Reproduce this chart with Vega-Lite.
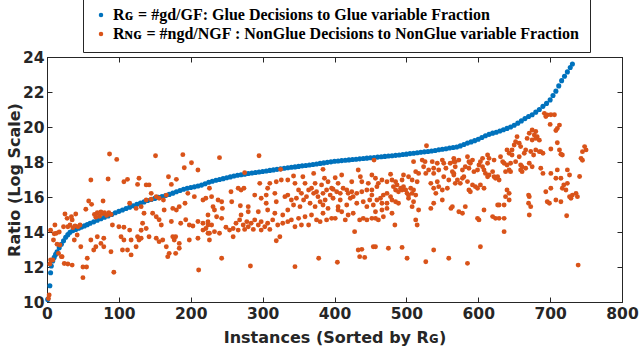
{
"$schema":"https://vega.github.io/schema/vega-lite/v6.json",
"width":575,"height":245,
"autosize":{"type":"none"},
"padding":{"left":47,"top":57,"right":18,"bottom":47},
"background":"white",
"config":{"view":{"stroke":"#262626","strokeWidth":1},"font":"DejaVu Sans"},
"datasets":{
"g":[{"x":1,"y":10.15},{"x":4,"y":10.93},{"x":5,"y":11.67},{"x":6,"y":12.06},{"x":8,"y":12.35},{"x":10,"y":12.55},{"x":12,"y":12.72},{"x":14,"y":12.87},{"x":17,"y":13.1},{"x":20,"y":13.3},{"x":23,"y":13.5},{"x":26,"y":13.7},{"x":29,"y":13.85},{"x":32,"y":13.98},{"x":36,"y":14.08},{"x":40,"y":14.15},{"x":44,"y":14.22},{"x":48,"y":14.28},{"x":52,"y":14.35},{"x":56,"y":14.42},{"x":60,"y":14.5},{"x":65,"y":14.58},{"x":70,"y":14.67},{"x":75,"y":14.76},{"x":80,"y":14.84},{"x":85,"y":14.92},{"x":90,"y":15.0},{"x":95,"y":15.1},{"x":100,"y":15.18},{"x":105,"y":15.26},{"x":110,"y":15.34},{"x":115,"y":15.42},{"x":120,"y":15.5},{"x":125,"y":15.58},{"x":130,"y":15.65},{"x":135,"y":15.72},{"x":140,"y":15.8},{"x":145,"y":15.86},{"x":150,"y":15.92},{"x":155,"y":15.98},{"x":160,"y":16.03},{"x":165,"y":16.09},{"x":170,"y":16.15},{"x":175,"y":16.22},{"x":180,"y":16.3},{"x":185,"y":16.37},{"x":190,"y":16.44},{"x":195,"y":16.5},{"x":200,"y":16.54},{"x":205,"y":16.58},{"x":210,"y":16.63},{"x":215,"y":16.68},{"x":220,"y":16.76},{"x":225,"y":16.84},{"x":230,"y":16.9},{"x":235,"y":16.96},{"x":240,"y":17.0},{"x":245,"y":17.05},{"x":250,"y":17.1},{"x":255,"y":17.15},{"x":260,"y":17.2},{"x":265,"y":17.24},{"x":270,"y":17.27},{"x":275,"y":17.3},{"x":280,"y":17.34},{"x":285,"y":17.37},{"x":290,"y":17.4},{"x":295,"y":17.43},{"x":300,"y":17.46},{"x":305,"y":17.49},{"x":310,"y":17.52},{"x":315,"y":17.55},{"x":320,"y":17.58},{"x":325,"y":17.61},{"x":330,"y":17.64},{"x":335,"y":17.67},{"x":340,"y":17.7},{"x":345,"y":17.72},{"x":350,"y":17.75},{"x":355,"y":17.78},{"x":360,"y":17.8},{"x":365,"y":17.83},{"x":370,"y":17.86},{"x":375,"y":17.89},{"x":380,"y":17.92},{"x":385,"y":17.95},{"x":390,"y":17.98},{"x":395,"y":18.01},{"x":400,"y":18.04},{"x":405,"y":18.06},{"x":410,"y":18.08},{"x":415,"y":18.1},{"x":420,"y":18.12},{"x":425,"y":18.14},{"x":430,"y":18.16},{"x":435,"y":18.18},{"x":440,"y":18.2},{"x":445,"y":18.22},{"x":450,"y":18.24},{"x":455,"y":18.26},{"x":460,"y":18.28},{"x":465,"y":18.3},{"x":470,"y":18.32},{"x":475,"y":18.34},{"x":480,"y":18.36},{"x":485,"y":18.38},{"x":490,"y":18.4},{"x":495,"y":18.43},{"x":500,"y":18.45},{"x":505,"y":18.48},{"x":510,"y":18.5},{"x":515,"y":18.53},{"x":520,"y":18.56},{"x":525,"y":18.58},{"x":530,"y":18.6},{"x":535,"y":18.63},{"x":540,"y":18.66},{"x":545,"y":18.7},{"x":550,"y":18.73},{"x":555,"y":18.76},{"x":560,"y":18.8},{"x":565,"y":18.83},{"x":570,"y":18.86},{"x":575,"y":18.92},{"x":580,"y":19.0},{"x":585,"y":19.08},{"x":590,"y":19.15},{"x":595,"y":19.22},{"x":600,"y":19.3},{"x":605,"y":19.4},{"x":610,"y":19.5},{"x":615,"y":19.58},{"x":620,"y":19.65},{"x":625,"y":19.7},{"x":630,"y":19.77},{"x":635,"y":19.84},{"x":640,"y":19.92},{"x":645,"y":20.0},{"x":650,"y":20.1},{"x":655,"y":20.22},{"x":660,"y":20.35},{"x":665,"y":20.48},{"x":670,"y":20.6},{"x":675,"y":20.7},{"x":680,"y":20.85},{"x":685,"y":21.0},{"x":690,"y":21.18},{"x":695,"y":21.35},{"x":700,"y":21.55},{"x":704,"y":21.8},{"x":708,"y":22.05},{"x":712,"y":22.35},{"x":716,"y":22.65},{"x":720,"y":22.9},{"x":724,"y":23.15},{"x":728,"y":23.4},{"x":731,"y":23.6}],
"ng":[{"x":87,"y":18.46},{"x":97,"y":18.15},{"x":61,"y":16.97},{"x":85,"y":17.03},{"x":107,"y":16.87},{"x":58,"y":15.77},{"x":62,"y":15.58},{"x":78,"y":15.77},{"x":54,"y":15.3},{"x":66,"y":15.0},{"x":70,"y":15.1},{"x":73,"y":14.9},{"x":77,"y":15.05},{"x":80,"y":15.1},{"x":83,"y":14.95},{"x":86,"y":15.1},{"x":89,"y":15.0},{"x":68,"y":14.85},{"x":75,"y":15.15},{"x":25,"y":15.03},{"x":40,"y":15.03},{"x":28,"y":14.78},{"x":35,"y":14.69},{"x":11,"y":14.4},{"x":5,"y":14.1},{"x":17,"y":14.0},{"x":10,"y":13.9},{"x":29,"y":14.3},{"x":32,"y":14.4},{"x":36,"y":14.25},{"x":39,"y":14.35},{"x":43,"y":14.3},{"x":46,"y":14.4},{"x":42,"y":13.83},{"x":38,"y":13.54},{"x":47,"y":13.16},{"x":21,"y":12.59},{"x":24,"y":12.2},{"x":29,"y":12.17},{"x":35,"y":12.11},{"x":50,"y":12.0},{"x":55,"y":12.0},{"x":56,"y":12.5},{"x":50,"y":11.39},{"x":93,"y":11.7},{"x":3,"y":10.4},{"x":2,"y":10.2},{"x":5,"y":12.4},{"x":4,"y":12.17},{"x":91,"y":14.4},{"x":100,"y":14.3},{"x":107,"y":14.27},{"x":103,"y":13.73},{"x":107,"y":13.54},{"x":79,"y":13.64},{"x":79,"y":13.16},{"x":89,"y":12.87},{"x":65,"y":12.97},{"x":68,"y":13.16},{"x":75,"y":13.35},{"x":61,"y":13.54},{"x":70,"y":13.73},{"x":105,"y":12.97},{"x":9,"y":13.54},{"x":13,"y":13.93},{"x":18,"y":13.26},{"x":23,"y":14.3},{"x":16,"y":12.78},{"x":20,"y":12.59},{"x":14,"y":13.3},{"x":8,"y":12.4},{"x":34,"y":14.87},
{"x":151,"y":18.36},{"x":189,"y":18.42},{"x":201,"y":17.96},{"x":191,"y":17.67},{"x":210,"y":17.54},{"x":112,"y":17.01},{"x":128,"y":17.07},{"x":126,"y":16.72},{"x":138,"y":16.69},{"x":142,"y":16.69},{"x":169,"y":17.16},{"x":180,"y":17.01},{"x":173,"y":16.72},{"x":115,"y":15.64},{"x":124,"y":15.35},{"x":131,"y":15.45},{"x":138,"y":15.83},{"x":145,"y":16.21},{"x":152,"y":16.02},{"x":156,"y":15.93},{"x":162,"y":15.83},{"x":166,"y":16.11},{"x":145,"y":15.87},{"x":163,"y":15.26},{"x":175,"y":15.35},{"x":180,"y":15.26},{"x":184,"y":15.45},{"x":192,"y":15.64},{"x":196,"y":16.21},{"x":205,"y":16.02},{"x":217,"y":15.83},{"x":221,"y":15.93},{"x":135,"y":15.07},{"x":133,"y":14.5},{"x":138,"y":14.2},{"x":131,"y":14.1},{"x":152,"y":14.87},{"x":147,"y":15.07},{"x":156,"y":14.7},{"x":159,"y":14.4},{"x":173,"y":14.6},{"x":186,"y":14.5},{"x":193,"y":14.7},{"x":198,"y":14.4},{"x":203,"y":14.34},{"x":210,"y":14.6},{"x":217,"y":14.5},{"x":224,"y":14.4},{"x":115,"y":14.11},{"x":117,"y":13.54},{"x":112,"y":12.97},{"x":117,"y":12.69},{"x":126,"y":13.73},{"x":128,"y":13.54},{"x":124,"y":13.16},{"x":131,"y":13.64},{"x":142,"y":13.73},{"x":152,"y":13.64},{"x":156,"y":13.45},{"x":161,"y":13.54},{"x":166,"y":13.16},{"x":170,"y":12.78},{"x":168,"y":12.59},{"x":179,"y":12.78},{"x":177,"y":13.54},{"x":179,"y":13.73},{"x":184,"y":13.35},{"x":184,"y":13.07},{"x":198,"y":13.54},{"x":210,"y":13.64},{"x":175,"y":13.73},{"x":211,"y":11.83},{"x":217,"y":14.11},{"x":221,"y":14.2},{"x":224,"y":13.93},{"x":226,"y":13.54},
{"x":240,"y":18.25},{"x":295,"y":18.36},{"x":275,"y":17.39},{"x":325,"y":17.58},{"x":226,"y":16.5},{"x":256,"y":16.3},{"x":266,"y":16.5},{"x":270,"y":16.4},{"x":274,"y":16.5},{"x":296,"y":16.78},{"x":310,"y":16.78},{"x":319,"y":16.87},{"x":326,"y":16.97},{"x":335,"y":16.97},{"x":307,"y":16.5},{"x":229,"y":16.02},{"x":238,"y":15.83},{"x":243,"y":15.73},{"x":231,"y":15.45},{"x":233,"y":15.26},{"x":224,"y":14.97},{"x":236,"y":14.87},{"x":244,"y":15.35},{"x":257,"y":15.73},{"x":269,"y":15.5},{"x":280,"y":15.45},{"x":289,"y":16.11},{"x":298,"y":15.93},{"x":305,"y":16.11},{"x":317,"y":16.21},{"x":305,"y":15.64},{"x":319,"y":15.73},{"x":331,"y":16.02},{"x":335,"y":16.11},{"x":243,"y":14.78},{"x":270,"y":14.97},{"x":280,"y":15.16},{"x":294,"y":15.16},{"x":307,"y":15.26},{"x":317,"y":15.07},{"x":328,"y":14.97},{"x":335,"y":15.26},{"x":263,"y":14.5},{"x":268,"y":14.69},{"x":273,"y":14.4},{"x":278,"y":14.59},{"x":280,"y":14.3},{"x":284,"y":14.5},{"x":289,"y":14.69},{"x":294,"y":14.4},{"x":298,"y":14.59},{"x":303,"y":14.3},{"x":307,"y":14.5},{"x":314,"y":14.69},{"x":321,"y":14.4},{"x":328,"y":14.5},{"x":335,"y":14.59},{"x":249,"y":14.27},{"x":254,"y":14.11},{"x":259,"y":14.2},{"x":266,"y":14.11},{"x":275,"y":14.15},{"x":287,"y":14.15},{"x":298,"y":14.11},{"x":310,"y":14.15},{"x":229,"y":14.4},{"x":224,"y":14.59},{"x":233,"y":14.02},{"x":240,"y":13.93},{"x":226,"y":13.93},{"x":259,"y":13.73},{"x":324,"y":13.73},{"x":319,"y":13.5},{"x":243,"y":12.5},{"x":283,"y":12.06},
{"x":343,"y":17.2},{"x":356,"y":17.16},{"x":371,"y":17.35},{"x":384,"y":17.58},{"x":386,"y":17.07},{"x":401,"y":17.1},{"x":410,"y":17.26},{"x":433,"y":17.54},{"x":436,"y":17.16},{"x":452,"y":17.26},{"x":345,"y":16.78},{"x":359,"y":16.78},{"x":373,"y":16.78},{"x":382,"y":16.69},{"x":391,"y":16.87},{"x":405,"y":16.78},{"x":424,"y":16.87},{"x":438,"y":16.87},{"x":447,"y":16.78},{"x":398,"y":16.44},{"x":350,"y":16.4},{"x":354,"y":16.21},{"x":364,"y":16.4},{"x":368,"y":16.5},{"x":371,"y":16.21},{"x":375,"y":16.3},{"x":377,"y":16.02},{"x":384,"y":16.21},{"x":389,"y":16.4},{"x":394,"y":16.11},{"x":396,"y":16.5},{"x":403,"y":16.3},{"x":408,"y":16.21},{"x":412,"y":16.5},{"x":417,"y":16.4},{"x":419,"y":16.21},{"x":424,"y":16.3},{"x":426,"y":16.02},{"x":431,"y":16.21},{"x":438,"y":16.3},{"x":445,"y":16.4},{"x":452,"y":16.11},{"x":347,"y":15.93},{"x":357,"y":15.83},{"x":361,"y":16.02},{"x":380,"y":15.73},{"x":387,"y":15.83},{"x":398,"y":15.93},{"x":408,"y":15.83},{"x":422,"y":15.93},{"x":440,"y":15.73},{"x":449,"y":15.83},{"x":340,"y":15.83},{"x":343,"y":15.54},{"x":352,"y":15.45},{"x":366,"y":15.64},{"x":373,"y":15.45},{"x":384,"y":15.54},{"x":391,"y":15.35},{"x":405,"y":15.45},{"x":417,"y":15.54},{"x":431,"y":15.64},{"x":445,"y":15.45},{"x":454,"y":15.54},{"x":340,"y":14.69},{"x":345,"y":14.3},{"x":350,"y":14.78},{"x":354,"y":14.4},{"x":359,"y":14.87},{"x":364,"y":14.4},{"x":368,"y":14.97},{"x":375,"y":14.69},{"x":380,"y":14.59},{"x":384,"y":15.07},{"x":389,"y":14.69},{"x":396,"y":14.78},{"x":401,"y":14.78},{"x":405,"y":15.26},{"x":410,"y":15.16},{"x":415,"y":14.69},{"x":419,"y":14.97},{"x":426,"y":15.07},{"x":435,"y":14.69},{"x":440,"y":14.78},{"x":445,"y":14.69},{"x":452,"y":14.78},{"x":428,"y":14.02},{"x":433,"y":12.97},{"x":438,"y":13.01},{"x":435,"y":12.59},{"x":442,"y":12.55},{"x":454,"y":13.16},{"x":378,"y":12.5},{"x":404,"y":12.27},{"x":345,"y":12.02},
{"x":528,"y":18.93},{"x":455,"y":18.11},{"x":510,"y":18.02},{"x":522,"y":18.11},{"x":526,"y":18.02},{"x":536,"y":18.02},{"x":543,"y":17.93},{"x":550,"y":18.11},{"x":552,"y":17.93},{"x":561,"y":17.93},{"x":566,"y":18.02},{"x":524,"y":17.73},{"x":531,"y":17.54},{"x":538,"y":17.64},{"x":545,"y":17.54},{"x":555,"y":17.64},{"x":564,"y":17.45},{"x":513,"y":17.45},{"x":517,"y":17.35},{"x":527,"y":17.35},{"x":457,"y":17.07},{"x":461,"y":16.78},{"x":466,"y":16.97},{"x":478,"y":17.3},{"x":480,"y":16.97},{"x":485,"y":16.87},{"x":473,"y":16.87},{"x":496,"y":17.26},{"x":503,"y":17.16},{"x":494,"y":16.97},{"x":508,"y":16.97},{"x":515,"y":16.87},{"x":538,"y":17.35},{"x":543,"y":16.87},{"x":552,"y":17.16},{"x":559,"y":16.97},{"x":566,"y":17.35},{"x":568,"y":16.78},{"x":482,"y":16.59},{"x":487,"y":16.69},{"x":492,"y":16.5},{"x":494,"y":16.4},{"x":499,"y":16.4},{"x":501,"y":16.21},{"x":503,"y":16.11},{"x":508,"y":16.21},{"x":513,"y":16.11},{"x":489,"y":16.3},{"x":496,"y":16.59},{"x":485,"y":16.4},{"x":506,"y":16.5},{"x":510,"y":16.4},{"x":534,"y":16.78},{"x":538,"y":16.5},{"x":541,"y":16.21},{"x":545,"y":16.59},{"x":550,"y":16.4},{"x":557,"y":16.5},{"x":452,"y":16.4},{"x":459,"y":16.59},{"x":464,"y":15.93},{"x":468,"y":16.11},{"x":473,"y":16.21},{"x":478,"y":16.02},{"x":459,"y":15.83},{"x":466,"y":15.64},{"x":473,"y":15.64},{"x":480,"y":15.83},{"x":485,"y":15.73},{"x":489,"y":15.64},{"x":503,"y":15.93},{"x":510,"y":15.73},{"x":508,"y":15.45},{"x":517,"y":15.26},{"x":457,"y":15.16},{"x":466,"y":15.26},{"x":473,"y":15.35},{"x":480,"y":15.07},{"x":461,"y":14.69},{"x":457,"y":14.78},{"x":468,"y":14.87},{"x":513,"y":14.69},{"x":515,"y":14.4},{"x":534,"y":15.35},{"x":538,"y":15.64},{"x":550,"y":15.83},{"x":562,"y":15.35},{"x":564,"y":15.45},{"x":484,"y":14.4},{"x":457,"y":13.16},{"x":475,"y":13.07},{"x":494,"y":13.12},{"x":501,"y":12.5},{"x":527,"y":12.3},{"x":538,"y":12.97},{"x":559,"y":12.5},
{"x":675,"y":19.83},{"x":680,"y":19.74},{"x":671,"y":19.64},{"x":678,"y":19.54},{"x":668,"y":19.35},{"x":675,"y":19.26},{"x":682,"y":19.45},{"x":654,"y":19.45},{"x":652,"y":19.16},{"x":650,"y":18.97},{"x":657,"y":19.07},{"x":659,"y":18.88},{"x":666,"y":18.69},{"x":647,"y":18.69},{"x":643,"y":18.5},{"x":647,"y":18.4},{"x":640,"y":18.69},{"x":664,"y":18.5},{"x":673,"y":18.6},{"x":677,"y":18.4},{"x":657,"y":18.3},{"x":566,"y":18.21},{"x":568,"y":18.02},{"x":573,"y":18.11},{"x":585,"y":18.3},{"x":587,"y":18.02},{"x":592,"y":18.11},{"x":589,"y":17.93},{"x":603,"y":18.02},{"x":606,"y":18.21},{"x":613,"y":18.4},{"x":615,"y":18.21},{"x":613,"y":17.93},{"x":622,"y":18.11},{"x":631,"y":18.3},{"x":634,"y":18.02},{"x":636,"y":17.93},{"x":640,"y":17.83},{"x":645,"y":17.93},{"x":652,"y":18.02},{"x":659,"y":17.83},{"x":661,"y":17.73},{"x":671,"y":17.93},{"x":675,"y":17.73},{"x":568,"y":17.73},{"x":578,"y":17.54},{"x":582,"y":17.73},{"x":587,"y":17.64},{"x":594,"y":17.45},{"x":599,"y":17.54},{"x":601,"y":17.83},{"x":606,"y":17.73},{"x":608,"y":17.54},{"x":610,"y":17.35},{"x":613,"y":17.16},{"x":615,"y":17.26},{"x":620,"y":17.45},{"x":622,"y":17.16},{"x":624,"y":17.07},{"x":627,"y":17.16},{"x":629,"y":16.97},{"x":638,"y":17.45},{"x":643,"y":17.54},{"x":645,"y":17.45},{"x":659,"y":17.54},{"x":661,"y":17.45},{"x":666,"y":17.64},{"x":566,"y":17.26},{"x":571,"y":16.97},{"x":575,"y":16.78},{"x":578,"y":17.07},{"x":580,"y":17.16},{"x":585,"y":16.88},{"x":587,"y":16.4},{"x":592,"y":16.69},{"x":596,"y":16.59},{"x":599,"y":16.5},{"x":603,"y":16.69},{"x":608,"y":16.5},{"x":589,"y":16.3},{"x":640,"y":16.4},{"x":643,"y":16.21},{"x":643,"y":15.83},{"x":638,"y":16.02},{"x":671,"y":16.02},{"x":673,"y":15.45},{"x":671,"y":14.97},{"x":670,"y":16.11},{"x":670,"y":15.64},{"x":582,"y":15.45},{"x":573,"y":15.16},{"x":578,"y":15.07},{"x":608,"y":15.26},{"x":629,"y":15.54},{"x":636,"y":15.54},{"x":627,"y":15.54},{"x":620,"y":14.88},{"x":624,"y":14.78},{"x":629,"y":14.78},{"x":636,"y":14.78},{"x":599,"y":14.78},{"x":601,"y":14.69},{"x":636,"y":14.02},{"x":603,"y":13.16},{"x":585,"y":12.21},
{"x":692,"y":20.78},{"x":696,"y":20.69},{"x":701,"y":20.7},{"x":706,"y":20.7},{"x":694,"y":20.6},{"x":713,"y":20.11},{"x":710,"y":19.92},{"x":708,"y":19.8},{"x":700,"y":20.15},{"x":680,"y":19.35},{"x":685,"y":19.25},{"x":710,"y":19.1},{"x":680,"y":18.69},{"x":687,"y":18.59},{"x":690,"y":18.5},{"x":685,"y":18.59},{"x":701,"y":18.74},{"x":713,"y":18.69},{"x":717,"y":18.4},{"x":715,"y":18.45},{"x":748,"y":18.88},{"x":750,"y":18.69},{"x":745,"y":18.59},{"x":743,"y":18.21},{"x":745,"y":18.1},{"x":687,"y":17.64},{"x":690,"y":17.35},{"x":701,"y":17.35},{"x":710,"y":17.55},{"x":708,"y":17.07},{"x":715,"y":17.07},{"x":724,"y":17.55},{"x":727,"y":17.26},{"x":741,"y":17.17},{"x":719,"y":16.69},{"x":724,"y":16.78},{"x":717,"y":16.5},{"x":722,"y":16.4},{"x":727,"y":16.02},{"x":729,"y":15.93},{"x":731,"y":16.11},{"x":736,"y":16.21},{"x":738,"y":16.02},{"x":694,"y":16.3},{"x":701,"y":16.5},{"x":696,"y":15.73},{"x":699,"y":15.64},{"x":708,"y":15.83},{"x":715,"y":15.73},{"x":723,"y":14.93},{"x":739,"y":12.11}]
},
"resolve":{"scale":{"x":"independent","y":"independent"},"axis":{"x":"independent","y":"independent"}},
"layer":[
{"data":{"name":"g"},"mark":{"type":"circle","size":26,"opacity":1},
"encoding":{
"x":{"field":"x","type":"quantitative","scale":{"domain":[0,800],"nice":false,"zero":false},
"axis":{"orient":"bottom","values":[0,100,200,300,400,500,600,700,800],"grid":false,"tickSize":-5,"labelFlush":false,"labelPadding":9,"labelFont":"DejaVu Sans","labelFontWeight":"bold","labelFontSize":15.5,"labelColor":"#262626","domainColor":"#262626","tickColor":"#262626","title":"Instances (Sorted by Rɢ)","titleFont":"DejaVu Sans","titleFontWeight":"bold","titleFontSize":16,"titleColor":"#262626","titlePadding":8}},
"y":{"field":"y","type":"quantitative","scale":{"domain":[10,24],"nice":false,"zero":false},
"axis":{"orient":"left","values":[10,12,14,16,18,20,22,24],"grid":false,"tickSize":-5,"labelFlush":false,"labelPadding":8,"labelFont":"DejaVu Sans","labelFontWeight":"bold","labelFontSize":15.5,"labelColor":"#262626","domainColor":"#262626","tickColor":"#262626","title":"Ratio (Log Scale)","titleFont":"DejaVu Sans","titleFontWeight":"bold","titleFontSize":16,"titleColor":"#262626","titlePadding":0}},
"color":{"datum":"Rɢ = #gd/GF: Glue Decisions to Glue variable Fraction","type":"nominal",
"scale":{"domain":["Rɢ = #gd/GF: Glue Decisions to Glue variable Fraction","Rɴɢ = #ngd/NGF : NonGlue Decisions to NonGlue variable Fraction"],"range":["#0072BD","#D95319"]},
"legend":{"orient":"none","legendX":36,"legendY":-60,"title":null,"strokeColor":"#262626","fillColor":"white","padding":10,"rowPadding":3,"labelFont":"Liberation Serif","labelFontWeight":"bold","labelFontSize":16,"labelColor":"black","symbolType":"circle","symbolSize":20,"symbolStrokeWidth":0,"labelLimit":600}}}},
{"data":{"name":"ng"},"mark":{"type":"circle","size":24,"opacity":1},
"encoding":{
"x":{"field":"x","type":"quantitative","scale":{"domain":[0,800],"nice":false,"zero":false},"axis":{"orient":"top","values":[0,100,200,300,400,500,600,700,800],"grid":false,"tickSize":-5,"labels":false,"title":null,"domainColor":"#262626","tickColor":"#262626"}},
"y":{"field":"y","type":"quantitative","scale":{"domain":[10,24],"nice":false,"zero":false},"axis":{"orient":"right","values":[10,12,14,16,18,20,22,24],"grid":false,"tickSize":-5,"labels":false,"title":null,"domainColor":"#262626","tickColor":"#262626"}},
"color":{"datum":"Rɴɢ = #ngd/NGF : NonGlue Decisions to NonGlue variable Fraction","type":"nominal"}}}
]
}
